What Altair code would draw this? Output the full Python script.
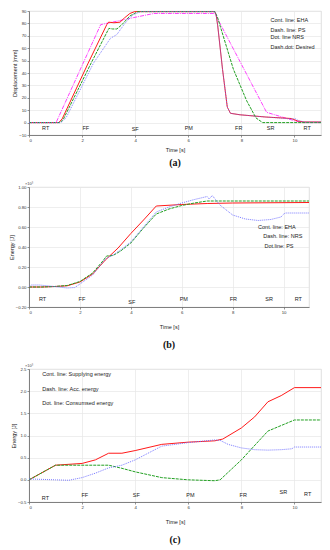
import altair as alt
import pandas as pd

# ---------------- (a) displacement [mm] ----------------
a_eha_t = [0, 1.12, 1.25, 2.23, 2.93, 3.0, 3.2, 3.43, 3.6, 3.8, 3.98, 7.0, 7.05, 7.11, 7.29, 7.47, 7.59, 7.95, 8.92, 9.88, 10.12, 10.36, 11]
a_eha_v = [0, 0, 3, 48, 79, 81, 80.5, 81, 84.5, 88, 89.5, 89.5, 87, 78, 43, 12.5, 7.5, 6.3, 4.5, 3.3, 1.3, 0.5, 0.5]
a_ps_t = [0, 1.18, 1.3, 2.34, 3.01, 3.15, 3.31, 3.5, 3.8, 4.1, 7.0, 7.1, 7.7, 8.2, 8.55, 8.8, 11]
a_ps_v = [0, 0, 3, 48, 76, 75.5, 75.5, 79, 86, 89.5, 89.5, 85, 43, 17.6, 3.8, 0, 0]
a_nrs_t = [0, 1.2, 1.4, 2.43, 3.07, 3.31, 3.61, 3.92, 4.22, 7.0, 7.05, 7.11, 7.29, 7.47, 7.59, 7.95, 8.92, 9.88, 10.05, 10.15, 10.4, 11]
a_nrs_v = [0, 0, 4, 48, 68, 71, 80, 87, 89.5, 89.5, 87, 78, 43, 12.5, 7.5, 6.3, 4.5, 3.0, 3.0, 1.5, 0.5, 0.5]
a_des_t = [0, 1.02, 2.7, 3.9, 4.7, 7.0, 8.95, 10.0, 10.3, 11]
a_des_v = [0, 0, 79, 84.5, 88, 88, 8.3, 1.5, 0, 0]
a_leg_text = ["Cont. line: EHA", "Dash. line: PS", "Dot. line NRS", "Dash.dot: Desired"]
a_leg_t = [9.1, 9.1, 9.1, 9.1]
a_leg_v = [82.4, 74.9, 68.8, 61.3]
a_ph_t = [0.63, 2.14, 4.0, 6.02, 7.9, 9.1, 10.48]
a_ph_v = [-4, -4, -5.5, -4, -4, -4, -4]

# ---------------- (b) energy [J] x10^3 ----------------
b_eha_t = [0, 0.5, 1.0, 1.5, 2.0, 2.5, 3.0, 3.5, 4.0, 4.5, 5.0, 6.0, 7.0, 8.0, 11]
b_eha_v = [0, 0, 0.005, 0.012, 0.05, 0.13, 0.27, 0.39, 0.535, 0.67, 0.81, 0.825, 0.835, 0.84, 0.845]
b_nrs_t = [0, 0.5, 1.0, 1.5, 2.0, 2.5, 2.9, 3.05, 3.3, 3.6, 4.0, 4.5, 5.0, 5.5, 6.0, 6.5, 7.0, 7.5, 11]
b_nrs_v = [0, 0, 0.005, 0.015, 0.055, 0.14, 0.26, 0.31, 0.315, 0.36, 0.44, 0.59, 0.73, 0.78, 0.815, 0.84, 0.86, 0.86, 0.86]
b_ps_t = [0, 0.1, 0.4, 1.0, 1.5, 1.8, 2.0, 2.5, 3.0, 3.3, 3.6, 4.0, 4.5, 5.0, 5.5, 6.0, 6.5, 7.0, 7.08, 7.2, 7.5, 8.0, 8.5, 9.0, 9.5, 9.9, 10.05, 11]
b_ps_v = [0.005, 0.02, 0.02, 0.005, -0.01, -0.005, 0.03, 0.12, 0.28, 0.32, 0.37, 0.45, 0.6, 0.75, 0.8, 0.84, 0.875, 0.905, 0.88, 0.915, 0.82, 0.72, 0.68, 0.665, 0.675, 0.70, 0.74, 0.74]
b_leg_text = ["Cont. line: EHA", "Dash. line: NRS", "Dot.line: PS"]
b_leg_t = [9.0, 9.2, 9.25]
b_leg_v = [0.60, 0.51, 0.41]
b_ph_t = [0.53, 2.08, 4.04, 6.08, 8.03, 9.43, 10.58]
b_ph_v = [-0.12, -0.12, -0.15, -0.12, -0.12, -0.12, -0.12]

# ---------------- (c) energy [J] x10^3 ----------------
c_sup_t = [0, 1, 2, 2.5, 3, 3.5, 4, 5, 6, 7, 7.3, 8, 8.5, 9, 9.5, 10, 11]
c_sup_v = [0, 0.33, 0.37, 0.45, 0.6, 0.6, 0.66, 0.8, 0.85, 0.88, 0.92, 1.17, 1.42, 1.76, 1.9, 2.08, 2.08]
c_acc_t = [0, 1, 2, 3, 3.5, 4, 5, 6, 7, 7.2, 8, 9, 10, 11]
c_acc_v = [0, 0.33, 0.33, 0.33, 0.26, 0.18, 0.05, 0.0, -0.02, 0.0, 0.45, 1.1, 1.35, 1.35]
c_con_t = [0, 0.5, 1, 1.5, 2, 2.5, 3, 3.5, 4, 5, 6, 7, 7.2, 7.5, 8, 8.5, 9, 9.5, 9.9, 10, 11]
c_con_v = [0.02, 0.01, 0.0, -0.01, 0.05, 0.15, 0.27, 0.33, 0.45, 0.76, 0.84, 0.9, 0.89, 0.8, 0.72, 0.68, 0.67, 0.68, 0.7, 0.74, 0.74]
c_leg_text = ["Cont. line: Supplying energy", "Dash. line: Acc. energy", "Dot. line: Consumsed energy"]
c_leg_t = [0.5, 0.5, 0.5]
c_leg_v = [2.38, 2.05, 1.73]
c_ph_t = [0.62, 2.1, 4.04, 6.08, 8.07, 9.58, 10.5]
c_ph_v = [-0.4, -0.35, -0.34, -0.34, -0.35, -0.28, -0.31]

phase_names = ["RT", "FF", "SF", "PM", "FR", "SR", "RT"]

RED, GREEN, BLUE, MAG = "#ff1a1a", "#22a022", "#6a6aff", "#ff40ff"
FONT = "Liberation Sans"


def panel(series, leg, phases, ydom, ystep, yfmt, ytitle, w, h, cap, xt_pad, cap_off, expo):
    xs = alt.Scale(domain=[0, 11], nice=False)
    ys = alt.Scale(domain=ydom, nice=False)
    n = int(round((ydom[1] - ydom[0]) / ystep))
    yvals = [round(ydom[0] + i * ystep, 4) for i in range(n + 1)]
    xaxis = alt.Axis(values=[0, 2, 4, 6, 8, 10], title="Time [s]", format="d",
                     titlePadding=xt_pad, labelOverlap=False)
    yaxis = alt.Axis(values=yvals, format=yfmt, title=ytitle, labelOverlap=False)

    def enc():
        return dict(x=alt.X("t:Q", scale=xs, axis=xaxis),
                    y=alt.Y("v:Q", scale=ys, axis=yaxis))

    layers = []
    for t, v, color, dash, op in series:
        df = pd.DataFrame({"t": t, "v": v})
        kw = dict(color=color, strokeWidth=1, opacity=op, clip=True)
        if dash:
            kw["strokeDash"] = dash
        layers.append(alt.Chart(df).mark_line(**kw).encode(**enc()))
    lt, lv, ltxt = leg
    ldf = pd.DataFrame({"t": lt, "v": lv, "txt": ltxt})
    layers.append(alt.Chart(ldf).mark_text(align="left", baseline="middle", fontSize=5.5,
                                           font=FONT, color="#222").encode(
        text="txt:N", **enc()))
    pt, pv = phases
    pdf = pd.DataFrame({"t": pt, "v": pv, "txt": phase_names})
    layers.append(alt.Chart(pdf).mark_text(align="center", baseline="middle", fontSize=5.5,
                                           font=FONT, color="#222").encode(
        text="txt:N", **enc()))
    if expo:
        edf = pd.DataFrame({"t": [0], "v": [ydom[1]], "txt": ["×10³"]})
        layers.append(alt.Chart(edf).mark_text(align="center", baseline="bottom", fontSize=4,
                                               dy=-1, font=FONT, color="#444").encode(
            text="txt:N", **enc()))
    return alt.layer(*layers).properties(
        width=w, height=h,
        title=alt.TitleParams(cap, orient="bottom", font="Liberation Serif", fontSize=10,
                              fontWeight="bold", offset=cap_off, color="#111", anchor="middle"))


pa = panel([(a_des_t, a_des_v, MAG, [4, 1, 1, 1], 1.0),
            (a_eha_t, a_eha_v, RED, None, 1.0),
            (a_ps_t, a_ps_v, GREEN, [3, 1], 1.0),
            (a_nrs_t, a_nrs_v, BLUE, [1, 1], 0.85)],
           (a_leg_t, a_leg_v, a_leg_text), (a_ph_t, a_ph_v),
           [-10, 90], 10, "d", "Displacement [mm]", 292, 124, "(a)", 5, 5, False)

pb = panel([(b_eha_t, b_eha_v, RED, None, 1.0),
            (b_nrs_t, b_nrs_v, GREEN, [3, 1], 1.0),
            (b_ps_t, b_ps_v, BLUE, [1, 1], 0.9)],
           (b_leg_t, b_leg_v, b_leg_text), (b_ph_t, b_ph_v),
           [-0.2, 1.0], 0.2, ".2f", "Energy [J]", 280, 120, "(b)", 10, 10, True)

pc = panel([(c_sup_t, c_sup_v, RED, None, 1.0),
            (c_acc_t, c_acc_v, GREEN, [3, 1], 1.0),
            (c_con_t, c_con_v, BLUE, [1, 1], 0.9)],
           (c_leg_t, c_leg_v, c_leg_text), (c_ph_t, c_ph_v),
           [-0.5, 2.5], 0.5, ".1f", "Energy [J]", 292, 133, "(c)", 10, 10, True)

chart = alt.concat(pa, pb, pc, columns=1, spacing=12, align="none").properties(
    padding={"left": 0, "top": 0, "right": 0, "bottom": 0}
).configure_view(stroke="#d8d8d8", strokeWidth=0.8).configure_axis(
    labelFont=FONT, titleFont=FONT, labelFontSize=4.3, titleFontSize=5.5,
    labelColor="#333", titleColor="#222", titleFontWeight="normal",
    domainColor="#666", tickColor="#666", tickSize=2, labelPadding=1,
    gridColor="#e6e6e6", gridWidth=0.7, domainWidth=0.8, tickWidth=0.7
).configure_axisY(titlePadding=1).configure_title(color="#111")

chart.save("out.html", embed_options={"renderer": "svg", "actions": False})
